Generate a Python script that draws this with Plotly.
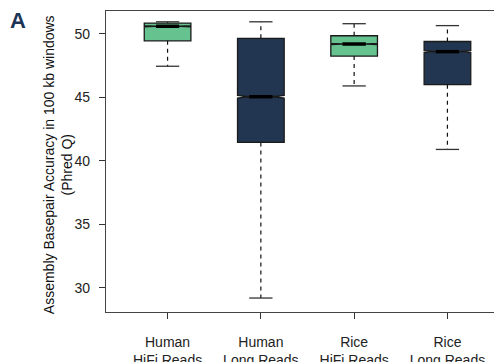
import plotly.graph_objects as go

# ---- data ----
categories = ["Human<br>HiFi Reads", "Human<br>Long Reads", "Rice<br>HiFi Reads", "Rice<br>Long Reads"]
read_type = ["HiFi", "Long", "HiFi", "Long"]
lower_whisker = [47.45, 29.2, 45.9, 40.9]
q1 = [49.45, 41.45, 48.25, 46.0]
median = [50.6, 45.05, 49.2, 48.6]
q3 = [50.85, 49.65, 49.85, 49.4]
upper_whisker = [50.95, 50.95, 50.8, 50.65]
notch = [0.04, 0.1, 0.04, 0.08]
y_ticks = [30, 35, 40, 45, 50]

colors = {"HiFi": "#66c28e", "Long": "#233651"}
FONT = "Liberation Sans, Arial, sans-serif"
BOX_W = 0.5
HALF_N = BOX_W / 4  # half-width of notch / caps

pos = list(range(len(categories)))
fig = go.Figure()

# whiskers (dashed) and caps
wx, wy, cx, cy = [], [], [], []
for i in pos:
    wx += [i, i, None, i, i, None]
    wy += [q3[i], upper_whisker[i], None, q1[i], lower_whisker[i], None]
    cx += [i - HALF_N, i + HALF_N, None, i - HALF_N, i + HALF_N, None]
    cy += [upper_whisker[i], upper_whisker[i], None, lower_whisker[i], lower_whisker[i], None]

fig.add_trace(go.Scatter(x=wx, y=wy, mode="lines", line=dict(color="#111", width=1.2, dash="4px,4px"),
                         hoverinfo="skip", showlegend=False))
fig.add_trace(go.Scatter(x=cx, y=cy, mode="lines", line=dict(color="#333", width=1.3),
                         hoverinfo="skip", showlegend=False))

for t in ["HiFi", "Long"]:
    idx = [i for i in pos if read_type[i] == t]
    fig.add_trace(go.Box(
        x=[pos[i] for i in idx],
        q1=[q1[i] for i in idx], median=[median[i] for i in idx], q3=[q3[i] for i in idx],
        lowerfence=[q1[i] for i in idx], upperfence=[q3[i] for i in idx],
        notchspan=[notch[i] for i in idx], notched=True, notchwidth=0.25,
        width=BOX_W, whiskerwidth=0, fillcolor=colors[t],
        line=dict(color="#1a1a1a", width=1.3), showlegend=False, boxpoints=False,
    ))

# thick median bars
mx, my = [], []
for i in pos:
    mx += [i - HALF_N, i + HALF_N, None]
    my += [median[i], median[i], None]
fig.add_trace(go.Scatter(x=mx, y=my, mode="lines", line=dict(color="#000", width=3.5),
                         hoverinfo="skip", showlegend=False))

fig.add_annotation(text="<b>A</b>", xref="paper", yref="paper", x=-0.247, y=0.97,
                   xanchor="left", yanchor="middle", showarrow=False,
                   font=dict(family=FONT, size=22, color="#1c3557"))

# y-axis title (two lines, rotated)
fig.add_annotation(text="Assembly Basepair Accuracy in 100 kb windows<br>(Phred Q)",
                   xref="paper", yref="paper", x=-0.121, y=0.488, textangle=-90,
                   xanchor="center", yanchor="middle", showarrow=False,
                   font=dict(family=FONT, size=14, color="#111"))

# page body has an 8px margin, so the figure is 8px smaller than the window
fig.update_layout(
    width=494, height=354,
    margin=dict(l=98, r=0, t=3, b=50),
    paper_bgcolor="white", plot_bgcolor="white",
    font=dict(family=FONT, size=14, color="#222"),
    xaxis=dict(range=[-0.66, 3.585], tickvals=pos, ticktext=categories, automargin=False,
               showgrid=False, zeroline=False, showline=True, linecolor="#444", linewidth=1.3,
               mirror=True, ticks="outside", ticklen=6, tickcolor="#333",
               tickfont=dict(family=FONT, size=14, color="#222"), ticklabelstandoff=11),
    yaxis=dict(range=[28.1, 51.8], tickvals=y_ticks, showgrid=False, zeroline=False,
               automargin=False,
               showline=True, linecolor="#444", linewidth=1.3, ticks="outside", ticklen=6,
               tickcolor="#333", tickfont=dict(family=FONT, size=14, color="#222"),
               ticklabelstandoff=6),
)

fig.write_html("out.html")
